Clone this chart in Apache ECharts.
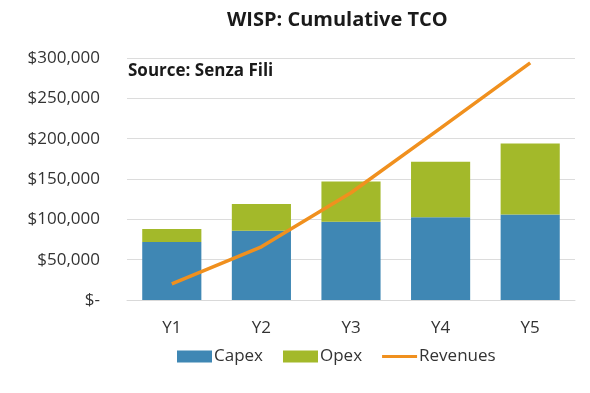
<!DOCTYPE html>
<html><head><meta charset="utf-8">
<script src="https://cdn.jsdelivr.net/npm/echarts@6/dist/echarts.min.js"></script>
<style>html,body{margin:0;padding:0;background:#fff}#c{width:590px;height:393px}</style>
</head><body><div id="c"></div>
<script>
const categories = ['Y1','Y2','Y3','Y4','Y5'];
const capex = [72000, 86000, 97000, 102500, 106000];
const opex = [16000, 33000, 50000, 69000, 88000];
const revenues = [20000, 66000, 133000, 213000, 294000];
const yTicks = [0, 50000, 100000, 150000, 200000, 250000, 300000];

const fmt = v => v === 0 ? '$-' : '$' + v.toLocaleString('en-US');
const font = '"Open Sans", sans-serif';
const chart = echarts.init(document.getElementById('c'));
chart.setOption({
  animation: false,
  title: {
    text: 'WISP: Cumulative TCO', left: 222, top: 5,
    textStyle: {fontFamily: font, fontWeight: 'bold', fontSize: 20, color: '#1a1a1a'}
  },
  graphic: [{type: 'text', left: 128, top: 63,
    style: {text: 'Source: Senza Fili', font: 'bold 17px "Open Sans", sans-serif', fill: '#1a1a1a'}}],
  grid: {left: 127, right: 15, top: 58, bottom: 93},
  legend: {
    bottom: 23, left: 172, itemGap: 20, itemWidth: 35, itemHeight: 12,
    textStyle: {fontFamily: font, fontSize: 17, color: '#333', padding: [0,0,0,-3]},
    data: [{name: 'Capex', icon: 'rect'}, {name: 'Opex', icon: 'rect'},
           {name: 'Revenues', icon: 'path://M0,0H35V3H0Z'}]
  },
  xAxis: {
    type: 'category', data: categories,
    axisLine: {lineStyle: {color: '#d9d9d9'}}, axisTick: {show: false},
    axisLabel: {fontFamily: font, fontSize: 17, color: '#333', margin: 20}
  },
  yAxis: {
    type: 'value', min: 0, max: 300000, interval: 50000,
    axisLine: {show: false}, axisTick: {show: false},
    splitLine: {lineStyle: {color: '#dcdcdc'}},
    axisLabel: {fontFamily: font, fontSize: 17, color: '#333', margin: 27,
      formatter: v => yTicks.includes(v) ? fmt(v) : ''}
  },
  series: [
    {name: 'Capex', type: 'bar', stack: 't', data: capex, barWidth: '66%', itemStyle: {color: '#3f87b4'}},
    {name: 'Opex', type: 'bar', stack: 't', data: opex, itemStyle: {color: '#a3b92a'}},
    {name: 'Revenues', type: 'line', data: revenues, symbol: 'none',
      lineStyle: {color: '#f0901e', width: 3.5}, itemStyle: {color: '#f0901e'}}
  ]
});
</script></body></html>
